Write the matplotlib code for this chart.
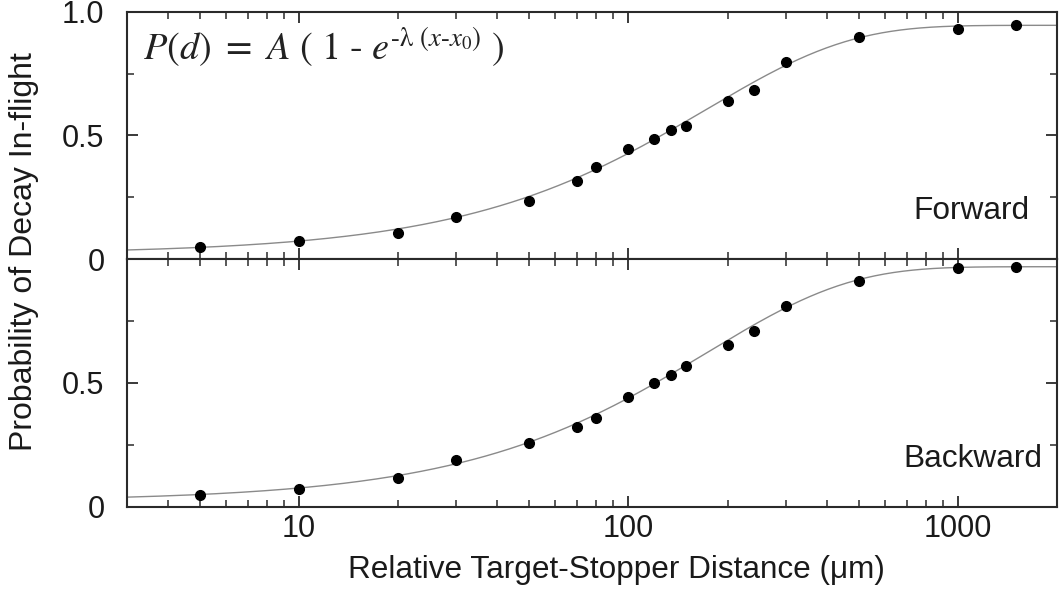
import matplotlib
matplotlib.use('Agg')
import matplotlib.pyplot as plt
from matplotlib.ticker import FixedLocator, NullFormatter, FixedFormatter
import numpy as np

plt.rcParams['font.family'] = ['Liberation Sans', 'DejaVu Sans']
plt.rcParams['mathtext.fontset'] = 'stix'

# distances (um) - same for both panels
dist = [5, 10, 20, 30, 50, 70, 80, 100, 120, 135, 150, 200, 240, 300, 500, 1000, 1500]
p_forward = [0.048, 0.073, 0.105, 0.170, 0.237, 0.316, 0.373, 0.447, 0.486, 0.523,
             0.540, 0.638, 0.684, 0.797, 0.897, 0.929, 0.945]
p_backward = [0.049, 0.073, 0.117, 0.189, 0.257, 0.323, 0.357, 0.442, 0.501, 0.531,
              0.569, 0.654, 0.711, 0.812, 0.914, 0.964, 0.970]

# fit parameters  P(d) = A (1 - exp(-lam (x - x0)))
fit_forward = (0.945, 0.0058, -4.0)
fit_backward = (0.970, 0.0058, -4.0)

W, H = 1060, 597
fig = plt.figure(figsize=(W / 100, H / 100), dpi=100)

left = 126.7 / W
right = 1057 / W
y_top = 1 - 11.7 / H
y_mid = 1 - 259.3 / H
y_bot = 1 - 506.7 / H

ax1 = fig.add_axes([left, y_mid, right - left, y_top - y_mid])
ax2 = fig.add_axes([left, y_bot, right - left, y_mid - y_bot])

txt_col = '#1a1a1a'
xs = np.logspace(np.log10(3), np.log10(2000), 400)


def fitcurve(x, pars):
    A, lam, x0 = pars
    return A * (1 - np.exp(-lam * (x - x0)))


for ax, p, pars in [(ax1, p_forward, fit_forward), (ax2, p_backward, fit_backward)]:
    ax.plot(xs, fitcurve(xs, pars), color='#8a8a8a', lw=1.0, zorder=2)
    ax.plot(dist, p, 'o', color='black', ms=7, zorder=3)
    ax.set_xscale('log')
    ax.set_xlim(3, 2000)
    ax.set_ylim(0, 1.0)
    for s in ax.spines.values():
        s.set_linewidth(1.5)
        s.set_color('#2a2a2a')
    ax.tick_params(which='both', direction='in', top=True, right=True, color='#2a2a2a',
                   labelsize=22, labelcolor=txt_col)
    ax.tick_params(which='major', length=8, width=1.3)
    ax.tick_params(which='minor', length=5, width=1.1)
    ax.tick_params(axis='y', pad=16)
    ax.yaxis.set_minor_locator(FixedLocator([0.25, 0.75]))
    ax.xaxis.set_major_locator(FixedLocator([10, 100, 1000]))
    minors = [m * 10 ** e for e in range(0, 4) for m in range(2, 10)]
    ax.xaxis.set_minor_locator(FixedLocator(minors))
    ax.xaxis.set_minor_formatter(NullFormatter())

ax1.yaxis.set_major_locator(FixedLocator([0, 0.5, 1.0]))
ax1.yaxis.set_major_formatter(FixedFormatter(['0', '0.5', '1.0']))
ax1.tick_params(axis='x', labelbottom=False)
ax2.yaxis.set_major_locator(FixedLocator([0, 0.5]))
ax2.yaxis.set_major_formatter(FixedFormatter(['0', '0.5']))
ax2.xaxis.set_major_formatter(FixedFormatter(['10', '100', '1000']))
ax2.tick_params(axis='x', pad=5)

ax1.text(0.017, 0.855,
         r'$P(d)\ =\ A\ (\ 1\ \text{-}\ e^{\text{-}\mathrm{\lambda}\ (x\text{-}x_0)}\ )$',
         transform=ax1.transAxes, fontsize=27.5, color='#222222', va='center', ha='left')
ax1.text(0.970, 0.195, 'Forward', transform=ax1.transAxes, fontsize=22.8, color=txt_col,
         ha='right', va='center')
ax2.text(0.984, 0.193, 'Backward', transform=ax2.transAxes, fontsize=22.8, color=txt_col,
         ha='right', va='center')

fig.text(616 / W, 1 - 570 / H, 'Relative Target-Stopper Distance (\u03bcm)', fontsize=22.7,
         color=txt_col, ha='center', va='center')
fig.text(24 / W, 1 - 252 / H, 'Probability of Decay In-flight', rotation=90, fontsize=23,
         color=txt_col, ha='center', va='center')

fig.savefig('out.png', dpi=100)
